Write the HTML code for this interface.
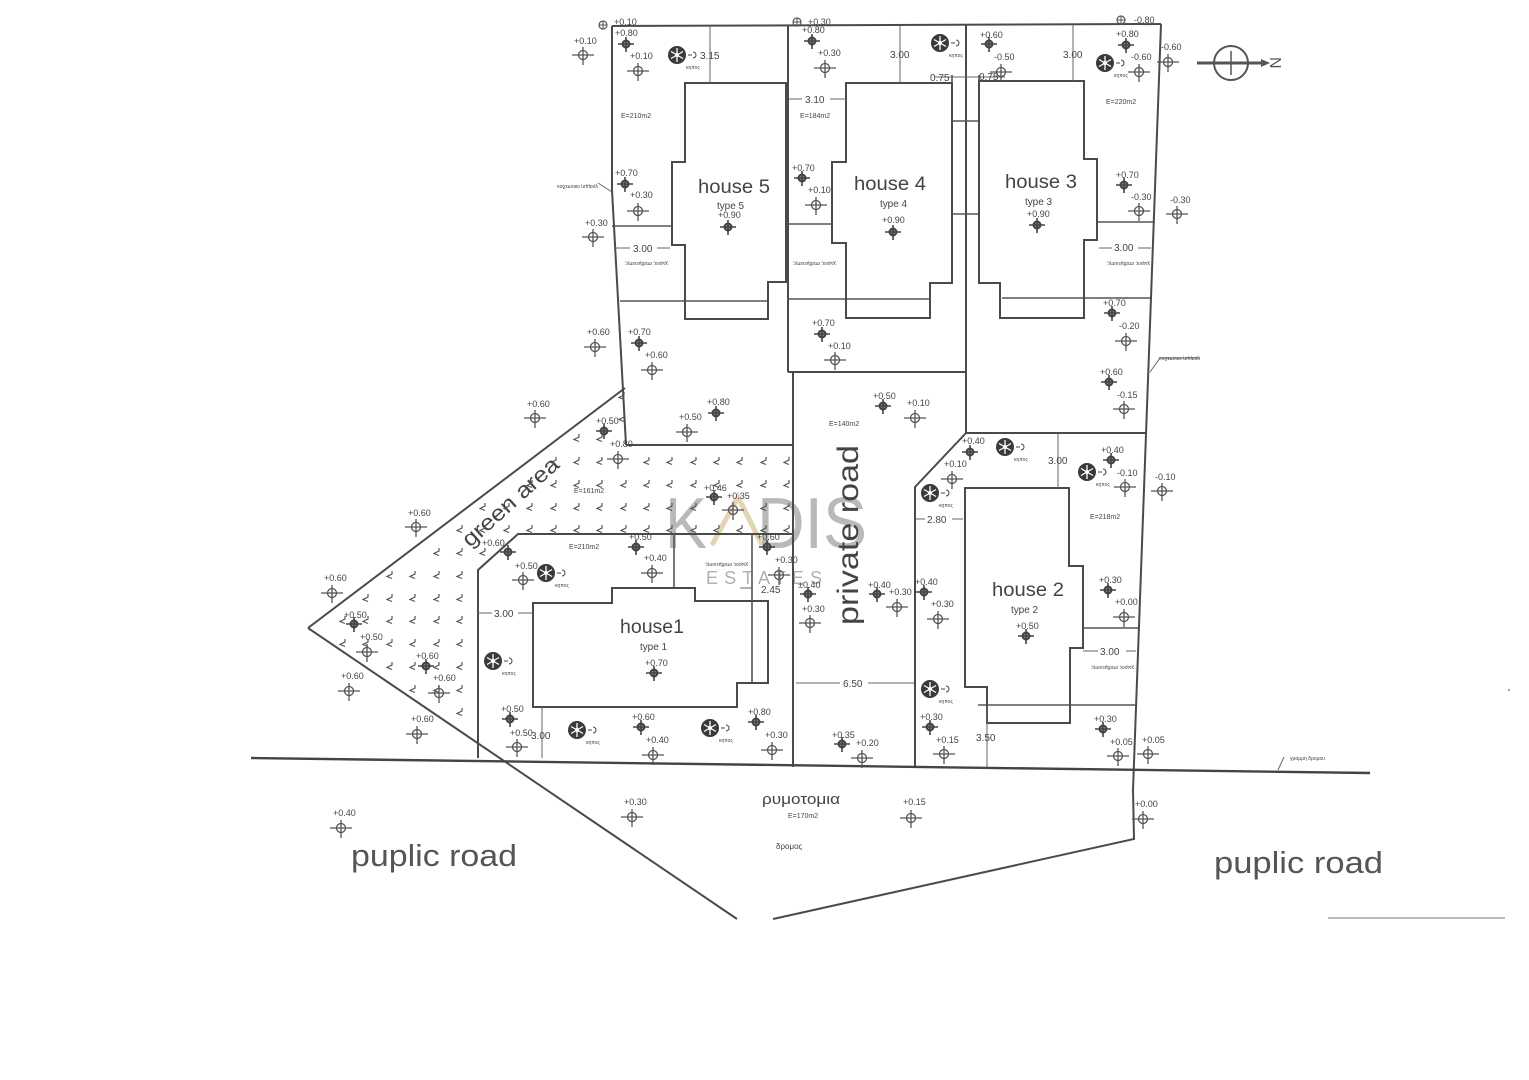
<!DOCTYPE html>
<html><head><meta charset="utf-8"><style>
html,body{margin:0;padding:0;background:#fff;}
svg{display:block;}
text{font-family:"Liberation Sans",Arial,sans-serif;fill:#444;}
.e{font-size:9px;}
.s{font-size:10px;}
.m{font-size:7px;}
.g{font-size:5px;font-family:"Liberation Sans","DejaVu Sans",sans-serif;}
.L{stroke:#4a4a4a;stroke-width:2;fill:none;}
.l{stroke:#555;stroke-width:1.6;fill:none;}
.dm{stroke:#666;stroke-width:1;fill:none;}
</style></head><body>
<svg width="1529" height="1080" viewBox="0 0 1529 1080" xmlns="http://www.w3.org/2000/svg">
<defs>
<g id="o" fill="none" stroke="#555" stroke-width="1.3"><circle r="4.5"/><path d="M-11 0H11M0-8V10"/></g>
<g id="d" stroke="#444"><circle r="3.5" fill="#888" stroke-width="2"/><path d="M-8 0H8M0-7V8" stroke-width="1.6"/></g>
<g id="c"><circle r="4" fill="none" stroke="#555" stroke-width="1.2"/><path d="M-4 0H4M0-4V4" stroke="#555" stroke-width="1"/></g>
<g id="t"><circle r="9" fill="#3a3a3a"/><path d="M0-7V7M-6-3.5L6 3.5M-6 3.5L6-3.5" stroke="#fff" stroke-width="1.3"/><circle r="2" fill="#fff"/><path d="M11 0h4M16-3a3 3 0 1 1 0 6" stroke="#444" fill="none" stroke-width="1"/></g>
<path id="h" d="M2 -4V-1L-3 1.5L2 3.5" fill="none" stroke="#555" stroke-width="1.2"/>
</defs>
<rect width="1529" height="1080" fill="#fff"/>

<!-- watermark -->
<text x="665" y="548" font-size="72" style="fill:#a8a8a8" opacity="0.8" textLength="42" lengthAdjust="spacingAndGlyphs">K</text>
<polyline points="712,545 738,497 762,545" fill="none" stroke="#dccb9e" stroke-width="5" opacity="0.8"/>
<text x="757" y="548" font-size="72" style="fill:#a8a8a8" opacity="0.8" textLength="110" lengthAdjust="spacingAndGlyphs">DIS</text>
<text x="706" y="584" font-size="18" style="fill:#b0b0b0" textLength="116" lengthAdjust="spacing">ESTATES</text>

<!-- main boundaries -->
<path class="L" d="M612 26L1161 24"/>
<path class="L" d="M612 26L612 190L626 445"/>
<path class="L" d="M1161 24L1133 790L1134 839L773 919"/>
<path class="L" d="M788 26V372"/>
<path class="L" d="M793 372V767"/>
<path class="L" d="M966 24V433"/>
<path class="L" d="M788 372H966"/>
<path class="L" d="M966 433H1147"/>
<path class="L" d="M626 445H793"/>
<path class="L" d="M966 433L915 487V767"/>
<path class="L" d="M793 534H518L478 570V758"/>
<path class="L" d="M308 628L625 388"/>
<path class="L" d="M308 628L737 919"/>
<path d="M251 758L1370 773" stroke="#444" stroke-width="2.4" fill="none"/>
<path d="M1328 918H1505" stroke="#777" stroke-width="1"/>
<path d="M1278 770L1284 757" stroke="#666" stroke-width="1"/>
<text class="g" x="1290" y="760">γραμμη δρομου</text>

<!-- interior lot lines -->
<path class="l" d="M612 226H672M620 301H768"/>
<path class="l" d="M788 224H832M788 299H930"/>
<path class="l" d="M1097 222H1153M1002 298H1150"/>
<path class="l" d="M952 121H979M952 214H979M952 75V83M979 75V83"/>
<path class="l" d="M978 705H1136M1083 628H1138"/>
<path class="l" d="M752 534V683M674 534V588"/>

<!-- houses -->
<path class="L" d="M685 83H786V282H768V319H685V245H672V162H685Z"/>
<path class="L" d="M846 83H952V283H930V318H846V243H832V162H846Z"/>
<path class="L" d="M979 81H1084V159H1097V240H1084V318H1000V283H979Z"/>
<path class="L" d="M965 488H1069V566H1083V648H1070V723H987V687H965Z"/>
<path class="L" d="M533 603H612V588H695V601H768V683H737V707H533Z"/>

<!-- dimension lines -->
<path class="dm" d="M710 26V83M900 26V83M1073 25V81"/>
<path class="dm" d="M789 99H802M830 99H846"/>
<path class="dm" d="M614 248H630M657 248H670"/>
<path class="dm" d="M1099 248H1112M1138 248H1151"/>
<path class="dm" d="M935 77H1005"/>
<path class="dm" d="M1058 433V488"/>
<path class="dm" d="M915 519H925M952 519H963"/>
<path class="dm" d="M1083 651H1098M1126 651H1136"/>
<path class="dm" d="M796 683H840M868 683H914"/>
<path class="dm" d="M987 705V767"/>
<path class="dm" d="M478 613H492M518 613H533"/>
<path class="dm" d="M542 707V758"/>
<path class="dm" d="M740 588H752"/>

<text class="s" x="700" y="59">3.15</text>
<text class="s" x="890" y="58">3.00</text>
<text class="s" x="1063" y="58">3.00</text>
<text class="s" x="930" y="81">0.75</text>
<text class="s" x="979" y="80">0.75</text>
<text class="s" x="805" y="103">3.10</text>
<text class="s" x="633" y="252">3.00</text>
<text class="s" x="1114" y="251">3.00</text>
<text class="s" x="1048" y="464">3.00</text>
<text class="s" x="927" y="523">2.80</text>
<text class="s" x="1100" y="655">3.00</text>
<text class="s" x="843" y="687">6.50</text>
<text class="s" x="976" y="741">3.50</text>
<text class="s" x="494" y="617">3.00</text>
<text class="s" x="531" y="739">3.00</text>
<text class="s" x="761" y="593">2.45</text>

<text class="m" x="621" y="118">E=210m2</text>
<text class="m" x="800" y="118">E=184m2</text>
<text class="m" x="1106" y="104">E=220m2</text>
<text class="m" x="829" y="426">E=140m2</text>
<text class="m" x="1090" y="519">E=218m2</text>
<text class="m" x="574" y="493">E=161m2</text>
<text class="m" x="569" y="549">E=210m2</text>
<text class="m" x="788" y="818">E=170m2</text>

<!-- tiny greek labels -->
<text class="g" transform="translate(668,262) rotate(180)">χωρος σταθμευσης</text>
<text class="g" transform="translate(836,262) rotate(180)">χωρος σταθμευσης</text>
<text class="g" transform="translate(1150,262) rotate(180)">χωρος σταθμευσης</text>
<text class="g" transform="translate(1134,666) rotate(180)">χωρος σταθμευσης</text>
<text class="g" transform="translate(748,563) rotate(180)">χωρος σταθμευσης</text>
<text class="g" transform="translate(598,185) rotate(180)">γραμμη οικοπεδου</text>
<path class="dm" d="M598 183L612 192"/>
<text class="g" transform="translate(1200,357) rotate(180)">γραμμη οικοπεδου</text>
<path class="dm" d="M1150 372L1160 358H1200"/>

<!-- house labels -->
<text x="698" y="193" font-size="19" textLength="72" lengthAdjust="spacingAndGlyphs">house 5</text>
<text x="717" y="209" class="s" textLength="27">type 5</text>
<text x="854" y="190" font-size="19" textLength="72" lengthAdjust="spacingAndGlyphs">house 4</text>
<text x="880" y="207" class="s" textLength="27">type 4</text>
<text x="1005" y="188" font-size="19" textLength="72" lengthAdjust="spacingAndGlyphs">house 3</text>
<text x="1025" y="205" class="s" textLength="27">type 3</text>
<text x="992" y="596" font-size="19" textLength="72" lengthAdjust="spacingAndGlyphs">house 2</text>
<text x="1011" y="613" class="s" textLength="27">type 2</text>
<text x="620" y="633" font-size="19" textLength="64" lengthAdjust="spacingAndGlyphs">house1</text>
<text x="640" y="650" class="s" textLength="27">type 1</text>

<text transform="translate(858,625) rotate(-90)" font-size="30" textLength="180" lengthAdjust="spacingAndGlyphs">private road</text>
<text transform="translate(470,548) rotate(-42)" font-size="22" textLength="122" lengthAdjust="spacingAndGlyphs">green area</text>

<text x="351" y="866" font-size="31" style="fill:#555" textLength="166" lengthAdjust="spacingAndGlyphs">puplic road</text>
<text x="1214" y="873" font-size="31" style="fill:#555" textLength="169" lengthAdjust="spacingAndGlyphs">puplic road</text>
<text x="762" y="804" font-size="15" textLength="78" lengthAdjust="spacingAndGlyphs">ρυμοτομια</text>
<text x="776" y="849" font-size="8">δρομος</text>

<!-- north arrow -->
<path d="M1197 63H1262" stroke="#555" stroke-width="3"/>
<path d="M1261 59L1270 63L1261 67Z" fill="#555"/>
<circle cx="1231" cy="63" r="17" fill="none" stroke="#555" stroke-width="2"/>
<path d="M1231 51V75" stroke="#555" stroke-width="1.5"/>
<text transform="translate(1270,57) rotate(90)" font-size="16" style="fill:#555">N</text>

<!-- trees -->
<use href="#t" x="677" y="55"/><text class="g" x="686" y="69">κηπος</text>
<use href="#t" x="940" y="43"/><text class="g" x="949" y="57">κηπος</text>
<use href="#t" x="1105" y="63"/><text class="g" x="1114" y="77">κηπος</text>
<use href="#t" x="1005" y="447"/><text class="g" x="1014" y="461">κηπος</text>
<use href="#t" x="930" y="493"/><text class="g" x="939" y="507">κηπος</text>
<use href="#t" x="1087" y="472"/><text class="g" x="1096" y="486">κηπος</text>
<use href="#t" x="930" y="689"/><text class="g" x="939" y="703">κηπος</text>
<use href="#t" x="546" y="573"/><text class="g" x="555" y="587">κηπος</text>
<use href="#t" x="493" y="661"/><text class="g" x="502" y="675">κηπος</text>
<use href="#t" x="577" y="730"/><text class="g" x="586" y="744">κηπος</text>
<use href="#t" x="710" y="728"/><text class="g" x="719" y="742">κηπος</text>

<!-- hatch in green area -->
<g>
<use href="#h" x="343" y="620"/><use href="#h" x="343" y="643"/>
<use href="#h" x="366" y="598"/><use href="#h" x="366" y="620"/><use href="#h" x="366" y="643"/>
<use href="#h" x="390" y="575"/><use href="#h" x="390" y="598"/><use href="#h" x="390" y="620"/><use href="#h" x="390" y="643"/><use href="#h" x="390" y="666"/>
<use href="#h" x="413" y="575"/><use href="#h" x="413" y="598"/><use href="#h" x="413" y="620"/><use href="#h" x="413" y="643"/><use href="#h" x="413" y="666"/><use href="#h" x="413" y="689"/>
<use href="#h" x="437" y="552"/><use href="#h" x="437" y="575"/><use href="#h" x="437" y="598"/><use href="#h" x="437" y="620"/><use href="#h" x="437" y="643"/><use href="#h" x="437" y="666"/><use href="#h" x="437" y="689"/>
<use href="#h" x="460" y="529"/><use href="#h" x="460" y="552"/><use href="#h" x="460" y="575"/><use href="#h" x="460" y="598"/><use href="#h" x="460" y="620"/><use href="#h" x="460" y="643"/><use href="#h" x="460" y="666"/><use href="#h" x="460" y="689"/><use href="#h" x="460" y="712"/>
<use href="#h" x="483" y="507"/><use href="#h" x="483" y="529"/><use href="#h" x="483" y="552"/>
<use href="#h" x="507" y="507"/><use href="#h" x="507" y="529"/>
<use href="#h" x="530" y="484"/><use href="#h" x="530" y="507"/><use href="#h" x="530" y="529"/>
<use href="#h" x="554" y="461"/><use href="#h" x="554" y="484"/><use href="#h" x="554" y="507"/><use href="#h" x="554" y="529"/>
<use href="#h" x="577" y="438"/><use href="#h" x="577" y="461"/><use href="#h" x="577" y="484"/><use href="#h" x="577" y="507"/><use href="#h" x="577" y="529"/>
<use href="#h" x="600" y="438"/><use href="#h" x="600" y="461"/><use href="#h" x="600" y="484"/><use href="#h" x="600" y="507"/><use href="#h" x="600" y="529"/>
<use href="#h" x="622" y="396"/><use href="#h" x="622" y="418"/><use href="#h" x="624" y="484"/><use href="#h" x="624" y="507"/><use href="#h" x="624" y="529"/>
<use href="#h" x="647" y="461"/><use href="#h" x="647" y="484"/><use href="#h" x="647" y="507"/><use href="#h" x="647" y="529"/>
<use href="#h" x="670" y="461"/><use href="#h" x="670" y="484"/><use href="#h" x="670" y="507"/><use href="#h" x="670" y="529"/>
<use href="#h" x="694" y="461"/><use href="#h" x="694" y="484"/><use href="#h" x="694" y="507"/><use href="#h" x="694" y="529"/>
<use href="#h" x="717" y="461"/><use href="#h" x="717" y="484"/><use href="#h" x="717" y="529"/>
<use href="#h" x="740" y="461"/><use href="#h" x="740" y="484"/><use href="#h" x="740" y="529"/>
<use href="#h" x="764" y="461"/><use href="#h" x="764" y="484"/><use href="#h" x="764" y="507"/><use href="#h" x="764" y="529"/>
<use href="#h" x="787" y="461"/><use href="#h" x="787" y="484"/><use href="#h" x="787" y="507"/><use href="#h" x="787" y="529"/>
</g>

<!-- survey points -->
<use href="#c" x="603" y="25"/><text class="e" x="614" y="25">+0.10</text>
<use href="#d" x="626" y="44"/><text class="e" x="615" y="36">+0.80</text>
<use href="#o" x="583" y="55"/><text class="e" x="574" y="44">+0.10</text>
<use href="#o" x="638" y="71"/><text class="e" x="630" y="59">+0.10</text>
<use href="#d" x="625" y="184"/><text class="e" x="615" y="176">+0.70</text>
<use href="#o" x="638" y="211"/><text class="e" x="630" y="198">+0.30</text>
<use href="#o" x="593" y="237"/><text class="e" x="585" y="226">+0.30</text>
<use href="#o" x="595" y="347"/><text class="e" x="587" y="335">+0.60</text>
<use href="#d" x="639" y="343"/><text class="e" x="628" y="335">+0.70</text>
<use href="#o" x="652" y="370"/><text class="e" x="645" y="358">+0.60</text>
<use href="#d" x="716" y="413"/><text class="e" x="707" y="405">+0.80</text>
<use href="#o" x="687" y="432"/><text class="e" x="679" y="420">+0.50</text>
<use href="#c" x="797" y="22"/><text class="e" x="808" y="25">+0.30</text>
<use href="#d" x="812" y="41"/><text class="e" x="802" y="33">+0.80</text>
<use href="#o" x="825" y="68"/><text class="e" x="818" y="56">+0.30</text>
<use href="#d" x="802" y="178"/><text class="e" x="792" y="171">+0.70</text>
<use href="#o" x="816" y="205"/><text class="e" x="808" y="193">+0.10</text>
<use href="#d" x="822" y="334"/><text class="e" x="812" y="326">+0.70</text>
<use href="#o" x="835" y="360"/><text class="e" x="828" y="349">+0.10</text>
<use href="#d" x="728" y="227"/><text class="e" x="718" y="218">+0.90</text>
<use href="#d" x="893" y="232"/><text class="e" x="882" y="223">+0.90</text>
<use href="#d" x="1037" y="225"/><text class="e" x="1027" y="217">+0.90</text>
<use href="#d" x="989" y="44"/><text class="e" x="980" y="38">+0.60</text>
<use href="#o" x="1001" y="72"/><text class="e" x="994" y="60">-0.50</text>
<use href="#c" x="1121" y="20"/><text class="e" x="1134" y="23">-0.80</text>
<use href="#d" x="1126" y="45"/><text class="e" x="1116" y="37">+0.80</text>
<use href="#o" x="1139" y="72"/><text class="e" x="1131" y="60">-0.60</text>
<use href="#o" x="1168" y="62"/><text class="e" x="1161" y="50">-0.60</text>
<use href="#d" x="1124" y="185"/><text class="e" x="1116" y="178">+0.70</text>
<use href="#o" x="1139" y="211"/><text class="e" x="1131" y="200">-0.30</text>
<use href="#o" x="1177" y="214"/><text class="e" x="1170" y="203">-0.30</text>
<use href="#d" x="1112" y="313"/><text class="e" x="1103" y="306">+0.70</text>
<use href="#o" x="1126" y="341"/><text class="e" x="1119" y="329">-0.20</text>
<use href="#d" x="1109" y="382"/><text class="e" x="1100" y="375">+0.60</text>
<use href="#o" x="1124" y="409"/><text class="e" x="1117" y="398">-0.15</text>
<use href="#d" x="883" y="406"/><text class="e" x="873" y="399">+0.50</text>
<use href="#o" x="915" y="418"/><text class="e" x="907" y="406">+0.10</text>
<use href="#d" x="970" y="452"/><text class="e" x="962" y="444">+0.40</text>
<use href="#o" x="952" y="479"/><text class="e" x="944" y="467">+0.10</text>
<use href="#d" x="1111" y="460"/><text class="e" x="1101" y="453">+0.40</text>
<use href="#o" x="1125" y="487"/><text class="e" x="1117" y="476">-0.10</text>
<use href="#o" x="1162" y="491"/><text class="e" x="1155" y="480">-0.10</text>
<use href="#d" x="1026" y="636"/><text class="e" x="1016" y="629">+0.50</text>
<use href="#d" x="1108" y="590"/><text class="e" x="1099" y="583">+0.30</text>
<use href="#o" x="1124" y="617"/><text class="e" x="1115" y="605">+0.00</text>
<use href="#d" x="924" y="592"/><text class="e" x="915" y="585">+0.40</text>
<use href="#o" x="938" y="619"/><text class="e" x="931" y="607">+0.30</text>
<use href="#d" x="930" y="727"/><text class="e" x="920" y="720">+0.30</text>
<use href="#o" x="944" y="754"/><text class="e" x="936" y="743">+0.15</text>
<use href="#d" x="1103" y="729"/><text class="e" x="1094" y="722">+0.30</text>
<use href="#o" x="1118" y="756"/><text class="e" x="1110" y="745">+0.05</text>
<use href="#o" x="1148" y="754"/><text class="e" x="1142" y="743">+0.05</text>
<use href="#d" x="808" y="594"/><text class="e" x="798" y="588">±0.40</text>
<use href="#o" x="810" y="623"/><text class="e" x="802" y="612">+0.30</text>
<use href="#d" x="877" y="594"/><text class="e" x="868" y="588">+0.40</text>
<use href="#o" x="897" y="607"/><text class="e" x="889" y="595">+0.30</text>
<use href="#d" x="842" y="744"/><text class="e" x="832" y="738">+0.35</text>
<use href="#o" x="862" y="758"/><text class="e" x="856" y="746">+0.20</text>
<use href="#o" x="535" y="418"/><text class="e" x="527" y="407">+0.60</text>
<use href="#d" x="604" y="431"/><text class="e" x="596" y="424">+0.50</text>
<use href="#o" x="618" y="459"/><text class="e" x="610" y="447">+0.80</text>
<use href="#d" x="714" y="497"/><text class="e" x="704" y="491">+0.46</text>
<use href="#o" x="733" y="510"/><text class="e" x="727" y="499">+0.35</text>
<use href="#o" x="416" y="527"/><text class="e" x="408" y="516">+0.60</text>
<use href="#d" x="508" y="552"/><text class="e" x="482" y="546">+0.60</text>
<use href="#d" x="636" y="547"/><text class="e" x="629" y="540">+0.50</text>
<use href="#o" x="652" y="573"/><text class="e" x="644" y="561">+0.40</text>
<use href="#d" x="767" y="547"/><text class="e" x="757" y="540">+0.60</text>
<use href="#o" x="779" y="575"/><text class="e" x="775" y="563">+0.30</text>
<use href="#o" x="523" y="580"/><text class="e" x="515" y="569">+0.50</text>
<use href="#o" x="332" y="593"/><text class="e" x="324" y="581">+0.60</text>
<use href="#d" x="354" y="624"/><text class="e" x="344" y="618">+0.50</text>
<use href="#o" x="367" y="652"/><text class="e" x="360" y="640">+0.50</text>
<use href="#d" x="426" y="666"/><text class="e" x="416" y="659">+0.60</text>
<use href="#o" x="439" y="693"/><text class="e" x="433" y="681">+0.60</text>
<use href="#o" x="349" y="691"/><text class="e" x="341" y="679">+0.60</text>
<use href="#d" x="654" y="673"/><text class="e" x="645" y="666">+0.70</text>
<use href="#d" x="510" y="719"/><text class="e" x="501" y="712">+0.50</text>
<use href="#o" x="517" y="747"/><text class="e" x="510" y="736">+0.50</text>
<use href="#d" x="641" y="727"/><text class="e" x="632" y="720">+0.60</text>
<use href="#o" x="653" y="755"/><text class="e" x="646" y="743">+0.40</text>
<use href="#d" x="756" y="722"/><text class="e" x="748" y="715">+0.80</text>
<use href="#o" x="772" y="750"/><text class="e" x="765" y="738">+0.30</text>
<use href="#o" x="417" y="734"/><text class="e" x="411" y="722">+0.60</text>
<use href="#o" x="341" y="828"/><text class="e" x="333" y="816">+0.40</text>
<use href="#o" x="632" y="817"/><text class="e" x="624" y="805">+0.30</text>
<use href="#o" x="911" y="818"/><text class="e" x="903" y="805">+0.15</text>
<use href="#o" x="1143" y="819"/><text class="e" x="1135" y="807">+0.00</text>
<circle cx="1509" cy="690" r="1" fill="#888"/>
</svg>
</body></html>
